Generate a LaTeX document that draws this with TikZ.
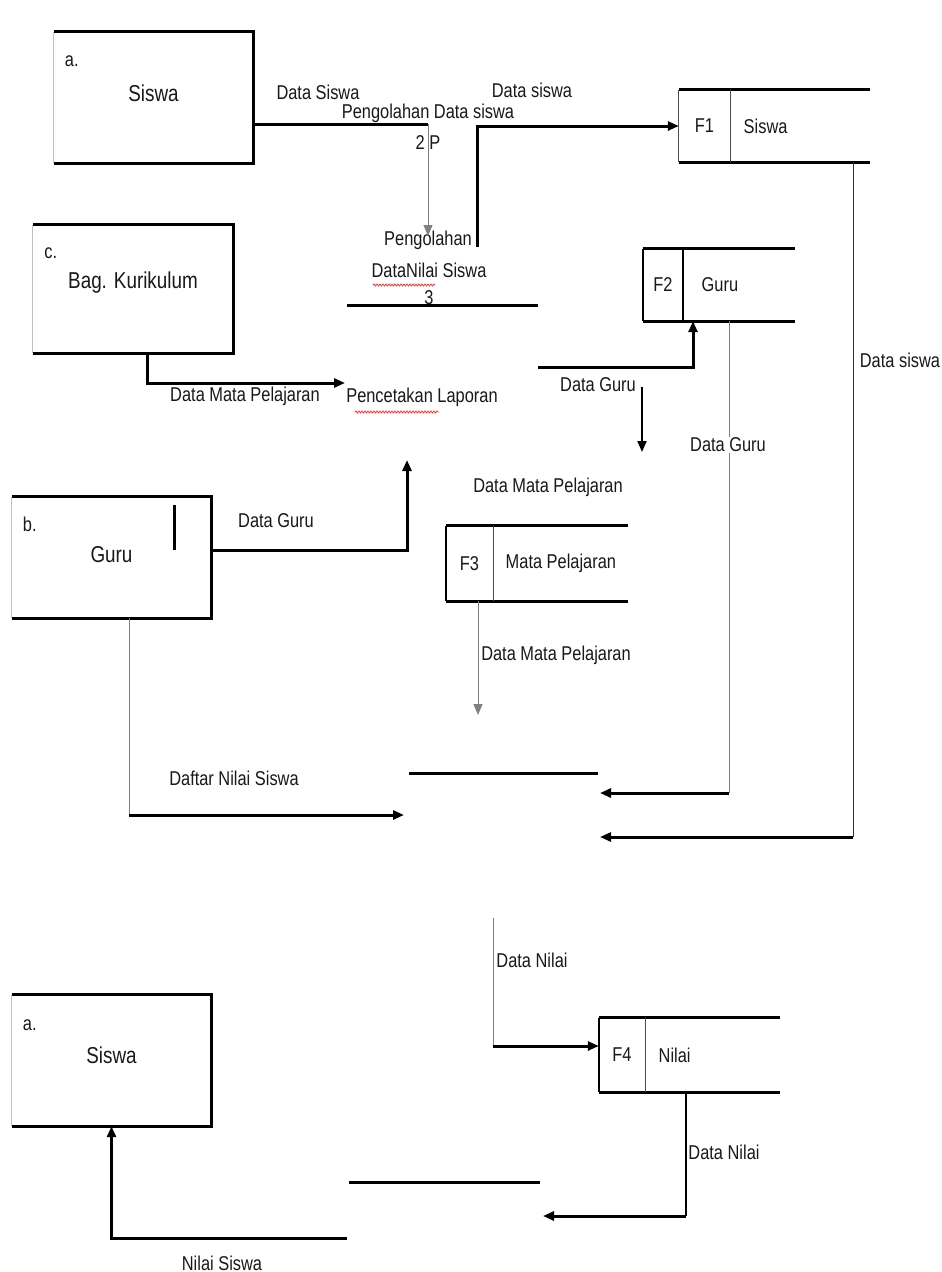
\documentclass[tikz,border=0pt]{standalone}
\usepackage{fontspec}
\setmainfont{Liberation Sans}[FakeStretch=0.82]
\usepackage{tikz}
\usetikzlibrary{
  arrows.meta,
  positioning,
  decorations.pathmorphing
}

\begin{document}
\begin{tikzpicture}[
    x=1pt, y=-1pt,
    every node/.style={font=\fontsize{20}{24}\selectfont, text=black!90},
    ent/.style={minimum width=199pt, inner sep=0pt},
    entname/.style={font=\fontsize{23}{27}\selectfont},
    store/.style={inner sep=0pt},
    sid/.style={inner sep=0pt},
    thk/.style={line width=3pt, black},
    med/.style={line width=2pt, black},
    thn/.style={line width=0.9pt, black!50},
    arr/.style={-{Triangle[length=11pt, width=9pt]}},
    lbl/.style={fill=white, inner sep=1pt},
    spell/.style={red!80, line width=0.8pt, decorate,
                  decoration={snake, amplitude=1pt, segment length=3pt}},
  ]

  \path[fill=white] (0,0) rectangle (942,1272);
  \useasboundingbox (0,0) rectangle (942,1272);

  % ---- Entities ----
  \node[ent, minimum height=131pt] (sa) at (153.5,97.5) {};
  \node (sa-id) at ([shift={(18,29)}]sa.north west) {a.};
  \node[entname] (sa-name) at ([shift={(0,61)}]sa.north) {Siswa};

  \node[ent, minimum width=200pt, minimum height=128pt] (sc) at (133,289) {};
  \node (sc-id) at ([shift={(18,28)}]sc.north west) {c.};
  \node[entname] (sc-name) at ([shift={(0,58)}]sc.north) {Bag. Kurikulum};

  \node[ent, minimum height=121pt] (sb) at (111.5,557.5) {};
  \node (sb-id) at ([shift={(18,28)}]sb.north west) {b.};
  \node[entname] (sb-name) at ([shift={(0,58)}]sb.north) {Guru};
  \draw[thk] (174,505) -- (174,550);

  \node[ent, minimum height=131pt] (sd) at (111.5,1060.5) {};
  \node (sd-id) at ([shift={(18,30)}]sd.north west) {a.};
  \node[entname] (sd-name) at ([shift={(0,60)}]sd.north) {Siswa};

  \foreach \e in {sa,sc,sb,sd} {
    \draw[thn, black!25] (\e.north west) -- (\e.south west);
    \draw[thk] (\e.north west) -- (\e.north east) -- (\e.south east)
      -- (\e.south west);
  }

  % ---- Data stores ----
  \node[store, minimum width=191pt, minimum height=72pt] (fa) at (774.5,126) {};
  \node[sid, minimum width=51pt, minimum height=72pt, anchor=west] (fa-id)
    at (fa.west) {F1};
  \node[anchor=west] (fa-name) at ([xshift=10pt]fa-id.east) {Siswa};

  \node[store, minimum width=152pt, minimum height=72pt] (fb) at (719,285) {};
  \node[sid, minimum width=40pt, minimum height=72pt, anchor=west] (fb-id)
    at (fb.west) {F2};
  \node[anchor=west] (fb-name) at ([xshift=15pt]fb-id.east) {Guru};

  \node[store, minimum width=182pt, minimum height=75pt] (fc) at (537,563.5) {};
  \node[sid, minimum width=47pt, minimum height=75pt, anchor=west] (fc-id)
    at (fc.west) {F3};
  \node[anchor=west] (fc-name) at ([xshift=9pt]fc-id.east) {Mata Pelajaran};

  \node[store, minimum width=181pt, minimum height=74pt] (fd) at (689.5,1055) {};
  \node[sid, minimum width=46pt, minimum height=74pt, anchor=west] (fd-id)
    at (fd.west) {F4};
  \node[anchor=west] (fd-name) at ([xshift=10pt]fd-id.east) {Nilai};

  \foreach \s in {fa,fb,fc,fd} {
    \draw[thk] (\s.north west) -- (\s.north east);
    \draw[thk] (\s.south west) -- (\s.south east);
  }
  \draw[thn, black!70] (fa.north west) -- (fa.south west);
  \draw[thn, black!70] (fa-id.north east) -- (fa-id.south east);
  \draw[med] (fb.north west) -- (fb.south west);
  \draw[med] (fb-id.north east) -- (fb-id.south east);
  \draw[med] (fc.north west) -- (fc.south west);
  \draw[thn, black!70] (fc-id.north east) -- (fc-id.south east);
  \draw[med] (fd.north west) -- (fd.south west);
  \draw[thn, black!70] (fd-id.north east) -- (fd-id.south east);

  % ---- Processes ----
  \node (p2) at (428,113) {Pengolahan Data siswa};
  \node (p2-no) at (428,143) {2 P};

  \node (p3) at (428,240) {Pengolahan};
  \node (p3-b) at (429,270) {DataNilai Siswa};
  \node (p3-no) at (429,298) {3};
  \draw[thk] (347,305) -- (538,305);
  \draw[spell] (373,285) -- (435,285);

  \node (p5) at (422,397) {Pencetakan Laporan};
  \draw[spell] (355,412) -- (439,412);

  \draw[thk] (409,773) -- (598,773);
  \draw[thk] (349,1182) -- (540,1182);

  % ---- Flows ----
  \coordinate (c1) at (428,124);
  \coordinate (p3-in) at (428,236);
  \draw[thk] (sa.east |- c1) -- (c1);
  \draw[thn, arr] (c1) -- (p3-in);
  \node (l-dsa) at (318,92) {Data Siswa};

  \coordinate (c2) at (477,247);
  \draw[thk, arr] (c2) |- (fa.west);
  \node (l-dsb) at (532,90) {Data siswa};

  \coordinate (c3) at (853,837);
  \coordinate (p4-b) at (600,837);
  \draw[thn, black!80] (fa.south -| c3) -- (c3);
  \draw[thk, arr] (c3) -- (p4-b);
  \node (l-dsc) at (900,360) {Data siswa};

  \coordinate (p5-in) at (345,383);
  \draw[thk, arr] ([xshift=14pt]sc.south) |- (p5-in);
  \node (l-dmp) at (245,396) {Data Mata Pelajaran};

  \coordinate (g1) at (538,367);
  \draw[thk, arr] (g1) -| ([xshift=-26pt]fb.south);
  \node (l-dg1) at (598,385) {Data Guru};
  \coordinate (g2) at (642,387);
  \coordinate (g3) at (642,452);
  \draw[med, arr] (g2) -- (g3);

  \coordinate (c5) at (729,793);
  \coordinate (p4-a) at (600,793);
  \draw[thn] ([xshift=10pt]fb.south) -- (c5);
  \draw[thk, arr] (c5) -- (p4-a);
  \node[lbl] (l-dg2) at (728,445) {Data Guru};

  \coordinate (c6) at (407,460);
  \draw[thk, arr] ([yshift=7.5pt]sb.east) -| (c6);
  \node (l-dg3) at (276,521) {Data Guru};

  \node (l-dmp2) at (548,487) {Data Mata Pelajaran};
  \coordinate (c7) at (478,715);
  \draw[thn, arr] (fc.south -| c7) -- (c7);
  \node (l-dmp3) at (556,655) {Data Mata Pelajaran};

  \coordinate (c8) at (129,815);
  \coordinate (p4-in) at (404,815);
  \draw[thn] (sb.south -| c8) -- (c8);
  \draw[thk, arr] (c8) -- (p4-in);
  \node (l-dns) at (234,778) {Daftar Nilai Siswa};

  \coordinate (c9) at (493,918);
  \coordinate (c10) at (493,1046);
  \draw[thn] (c9) -- (c10);
  \draw[thk, arr] (c10) -- (fd.west |- c10);
  \node (l-dn1) at (532,960) {Data Nilai};

  \coordinate (c11) at (686,1216);
  \coordinate (p6-in) at (543,1216);
  \draw[med] (fd.south -| c11) -- (c11);
  \draw[thk, arr] (c11) -- (p6-in);
  \node (l-dn2) at (724,1152) {Data Nilai};

  \coordinate (c12) at (347,1238);
  \draw[thk, arr] (c12) -| (sd.south);
  \node (l-nsw) at (222,1263) {Nilai Siswa};

\end{tikzpicture}
\end{document}
